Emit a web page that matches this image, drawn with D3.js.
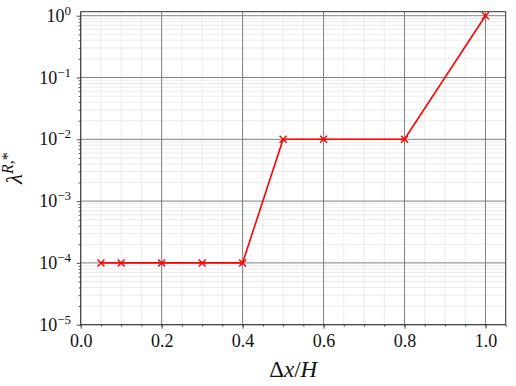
<!DOCTYPE html>
<html>
<head>
<meta charset="utf-8">
<script src="https://cdn.jsdelivr.net/npm/d3@7"></script>
<style>
  body { margin: 0; background: #fff; }
  svg, svg text { font-family: "Liberation Serif", "Times New Roman", serif; }
</style>
</head>
<body>
<svg id="chart" width="516" height="386"></svg>
<script>
// data
var dxH = [0.05, 0.1, 0.2, 0.3, 0.4, 0.5, 0.6, 0.8, 1.0];
var lambda = [1e-4, 1e-4, 1e-4, 1e-4, 1e-4, 1e-2, 1e-2, 1e-2, 1];
var xTicks = [0.0, 0.2, 0.4, 0.6, 0.8, 1.0];
var yExps = [0, -1, -2, -3, -4, -5];

var svg = d3.select("#chart");
var pLeft = 80.7, pRight = 505.7, pTop = 11.7, pBottom = 324.7;

var x = d3.scaleLinear().domain([0, 1.05]).range([pLeft, pRight]);
var y = d3.scaleLog().domain([1e-5, Math.pow(10, 0.065)]).range([pBottom, pTop]);

/*  GRID   */
var minorX = d3.range(0, 22).map(function(i) { return i * 0.05; }).filter(function(v) { return v <= 1.05; });
var minorY = [];
for (var e = -5; e < 1; e++)
  for (var m = 2; m <= 9; m++) {
    var v = m * Math.pow(10, e);
    if (v <= y.domain()[1]) minorY.push(v);
  }

var grid = svg.append("g");
grid.selectAll("line.mx").data(minorX).enter().append("line")
  .attr("x1", function(d) { return x(d); }).attr("x2", function(d) { return x(d); })
  .attr("y1", pTop).attr("y2", pBottom)
  .attr("stroke", "#e6e6e6").attr("stroke-width", 0.8);
grid.selectAll("line.my").data(minorY).enter().append("line")
  .attr("x1", pLeft).attr("x2", pRight)
  .attr("y1", function(d) { return y(d); }).attr("y2", function(d) { return y(d); })
  .attr("stroke", "#e6e6e6").attr("stroke-width", 0.8);
grid.selectAll("line.Mx").data(xTicks).enter().append("line")
  .attr("x1", function(d) { return x(d); }).attr("x2", function(d) { return x(d); })
  .attr("y1", pTop).attr("y2", pBottom)
  .attr("stroke", "#808080").attr("stroke-width", 1);
grid.selectAll("line.My").data(yExps).enter().append("line")
  .attr("x1", pLeft).attr("x2", pRight)
  .attr("y1", function(d) { return y(Math.pow(10, d)); }).attr("y2", function(d) { return y(Math.pow(10, d)); })
  .attr("stroke", "#808080").attr("stroke-width", 1);

/*  AXES   */
var xAxis = d3.axisBottom(x).tickValues(xTicks).tickFormat(d3.format(".1f")).tickSize(4).tickPadding(6);
var xMinor = d3.axisBottom(x).tickValues(minorX).tickFormat("").tickSize(2);
var yAxis = d3.axisLeft(y).tickValues(yExps.map(function(d) { return Math.pow(10, d); })).tickFormat("").tickSize(4);
var yMinor = d3.axisLeft(y).tickValues(minorY).tickFormat("").tickSize(2);

[xMinor, xAxis].forEach(function(a) {
  svg.append("g").attr("transform", "translate(0," + pBottom + ")").call(a)
    .attr("font-size", 18).attr("font-family", null);
});
[yMinor, yAxis].forEach(function(a) {
  svg.append("g").attr("transform", "translate(" + pLeft + ",0)").call(a).attr("font-family", null);
});
svg.selectAll(".domain").remove();
svg.selectAll(".tick line").attr("stroke", "#222").attr("stroke-width", 0.8);
svg.selectAll(".tick text").attr("fill", "#111");

// y tick labels as 10^n
var yl = svg.append("g");
yExps.forEach(function(d) {
  var t = yl.append("text")
    .attr("x", 71).attr("y", y(Math.pow(10, d)) + 6)
    .attr("text-anchor", "end").attr("font-size", 18).attr("fill", "#111");
  t.append("tspan").text("10");
  t.append("tspan").attr("dy", -7).attr("font-size", 13).text(d < 0 ? "\u2212" + (-d) : String(d));
});

// frame
svg.append("rect").attr("x", pLeft).attr("y", pTop)
  .attr("width", pRight - pLeft).attr("height", pBottom - pTop)
  .attr("fill", "none").attr("stroke", "#333").attr("stroke-width", 1);

/*  SERIES   */
var pts = dxH.map(function(d, i) { return [d, lambda[i]]; });
svg.append("path").datum(pts)
  .attr("d", d3.line().x(function(d) { return x(d[0]); }).y(function(d) { return y(d[1]); }))
  .attr("fill", "none").attr("stroke", "#ff0000").attr("stroke-width", 1.6);

var s = 3.5;
svg.append("g").selectAll("path").data(pts).enter().append("path")
  .attr("transform", function(d) { return "translate(" + x(d[0]) + "," + y(d[1]) + ")"; })
  .attr("d", "M" + (-s) + "," + (-s) + "L" + s + "," + s + "M" + (-s) + "," + s + "L" + s + "," + (-s))
  .attr("stroke", "#ff0000").attr("stroke-width", 1.4);

/*  LABELS   */
var xl = svg.append("text").attr("x", (pLeft + pRight) / 2).attr("y", 377)
  .attr("text-anchor", "middle").attr("font-size", 23).attr("fill", "#111");
xl.append("tspan").text("\u0394");
xl.append("tspan").attr("font-style", "italic").text("x");
xl.append("tspan").text("/");
xl.append("tspan").attr("font-style", "italic").text("H");

var ylab = svg.append("text")
  .attr("transform", "translate(22," + ((pTop + pBottom) / 2) + ") rotate(-90)")
  .attr("text-anchor", "middle").attr("font-size", 23).attr("fill", "#111");
ylab.append("tspan").attr("font-style", "italic").text("\u03bb");
ylab.append("tspan").attr("dy", -9).attr("font-size", 16).attr("font-style", "italic").text("R");
ylab.append("tspan").attr("font-size", 16).text(",*");
</script>
</body>
</html>
